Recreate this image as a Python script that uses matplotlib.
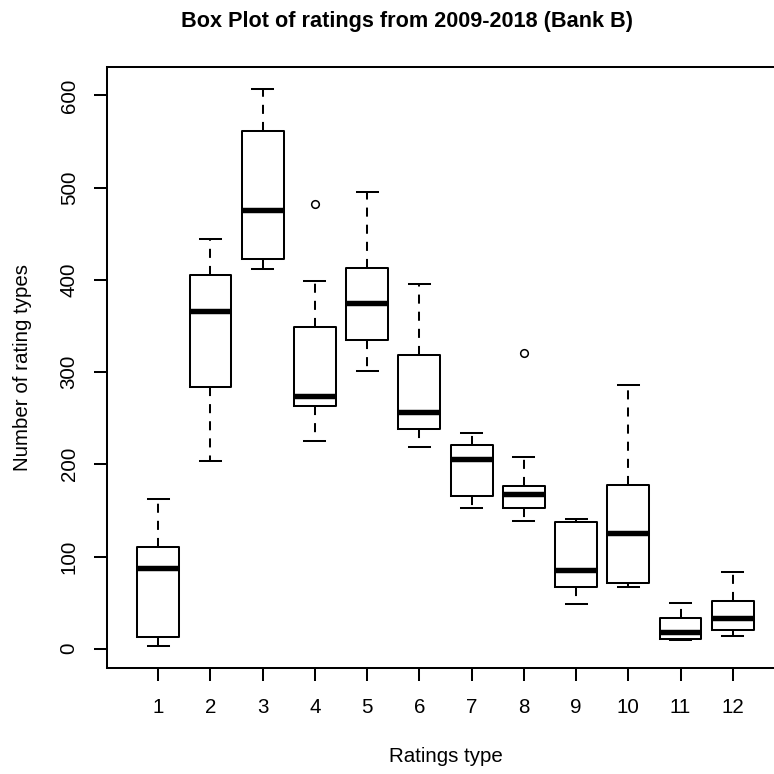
import matplotlib
matplotlib.use("Agg")
import matplotlib.pyplot as plt

plt.rcParams["font.family"] = ["Liberation Sans", "DejaVu Sans"]

# Rating categories and five-number summaries per category (2009-2018)
rating_types = ["1", "2", "3", "4", "5", "6", "7", "8", "9", "10", "11", "12"]
whisker_low = [3, 204, 412, 225, 301, 219, 153, 139, 48, 67, 9, 14]
q1 = [13, 284, 423, 263, 335, 238, 166, 153, 67, 71, 11, 20]
median = [88, 366, 476, 274, 375, 257, 206, 168, 85, 125, 18, 33]
q3 = [110, 405, 561, 349, 413, 319, 221, 176, 137, 178, 33, 52]
whisker_high = [162, 444, 607, 399, 495, 396, 234, 208, 141, 286, 50, 83]
outliers = [[], [], [], [482], [], [], [], [321], [], [], [], []]

stats = []
for lab, lo, a, m, b, hi, fl in zip(rating_types, whisker_low, q1, median, q3,
                                    whisker_high, outliers):
    stats.append(dict(label=lab, whislo=lo, q1=a, med=m, q3=b, whishi=hi,
                      fliers=fl))

fig = plt.figure(figsize=(7.74, 7.74), dpi=100)
W = H = 774.0
left, right, top, bottom = 107, 784, 66.7, 668
ax = fig.add_axes([left / W, 1 - bottom / H, (right - left) / W, (bottom - top) / H])

lw = 1.45
positions = list(range(1, len(stats) + 1))
ax.bxp(stats, positions=positions, widths=0.8, capwidths=0.4,
       boxprops=dict(color="black", linewidth=lw),
       whiskerprops=dict(color="black", linewidth=lw, linestyle=(0, (4.5, 4))),
       capprops=dict(color="black", linewidth=lw),
       medianprops=dict(color="black", linewidth=lw * 2.7, solid_capstyle="butt"),
       flierprops=dict(marker="o", markerfacecolor="none", markeredgecolor="black",
                       markersize=5.5, markeredgewidth=1.1))

ax.set_xlim(0.02, 12.98)
ax.set_ylim(-20.9, 631.2)
ax.set_yticks([0, 100, 200, 300, 400, 500, 600])
ax.set_xticks(positions)
ax.set_xticklabels(rating_types)

for s in ax.spines.values():
    s.set_linewidth(lw)
ax.tick_params(axis="both", length=9.4, width=lw, labelsize=14.8, color="black")
ax.tick_params(axis="x", pad=12)
ax.tick_params(axis="y", pad=11)
for t in ax.get_yticklabels():
    t.set_rotation(90)
    t.set_va("center")

ax.set_xlabel("Ratings type", fontsize=14.8, labelpad=22)
ax.set_ylabel("Number of rating types", fontsize=14.8, labelpad=20)
fig.text(406.5 / W, 1 - 22 / H, "Box Plot of ratings from 2009-2018 (Bank B)",
         ha="center", va="center", fontsize=15.6, fontweight="bold")

fig.savefig("out.png", dpi=100, facecolor="white")
